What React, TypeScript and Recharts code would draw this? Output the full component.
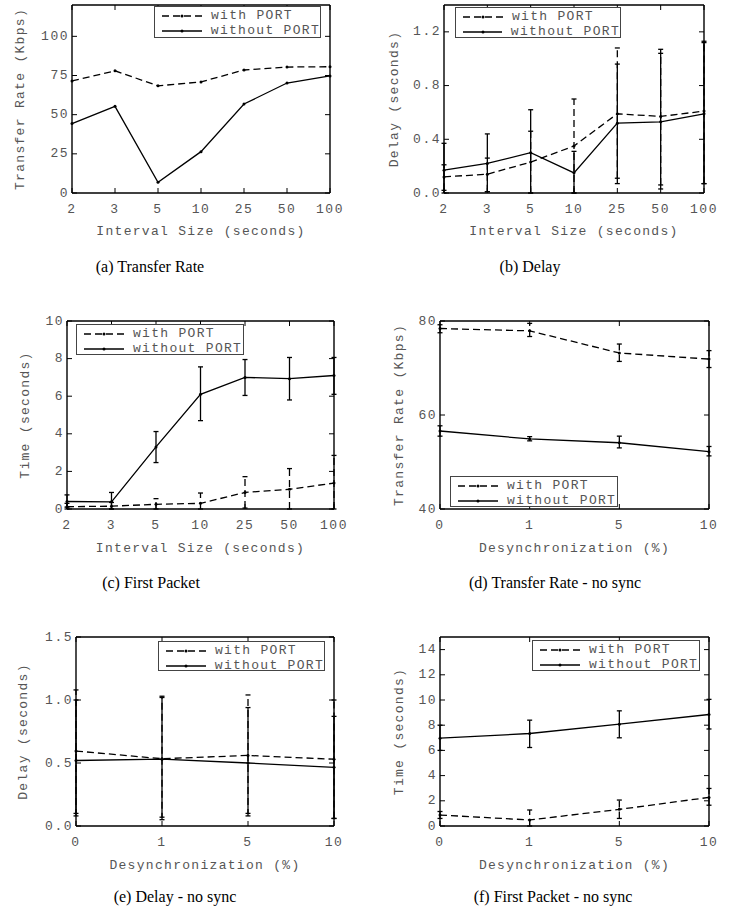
import React from "react";
import { ErrorBar, Label, Legend, Line, LineChart, XAxis, YAxis } from "recharts";

const MONO = '"Liberation Mono", "DejaVu Sans Mono", monospace';
const SERIF = '"Liberation Serif", "Times New Roman", serif';
const TEXT_GRAY = "#555";
const DASH = "7 4";

// categories
const INTERVALS = ["2", "3", "5", "10", "25", "50", "100"];
const DESYNC = ["0", "1", "5", "10"];

// (a) transfer rate (Kbps)
const RATE_WITH = [71.5, 78, 68.4, 70.9, 78.5, 80.4, 80.6];
const RATE_WITHOUT = [44.3, 55.3, 6.8, 26.4, 56.8, 70.2, 74.7];

// (b) delay (seconds) with low/high error bounds
const DELAY_WITH = [0.12, 0.14, 0.23, 0.35, 0.59, 0.57, 0.61];
const DELAY_WITH_LO = [0.02, 0.01, 0.0, 0.0, 0.11, 0.06, 0.07];
const DELAY_WITH_HI = [0.21, 0.26, 0.46, 0.7, 1.08, 1.07, 1.13];
const DELAY_WITHOUT = [0.17, 0.22, 0.3, 0.15, 0.52, 0.53, 0.59];
const DELAY_WITHOUT_LO = [0.0, 0.01, 0.0, 0.0, 0.07, 0.03, 0.07];
const DELAY_WITHOUT_HI = [0.37, 0.44, 0.62, 0.31, 0.96, 1.04, 1.12];

// (c) first packet time (seconds)
const FIRST_WITH = [0.12, 0.15, 0.25, 0.3, 0.88, 1.05, 1.38];
const FIRST_WITH_LO = [0.0, 0.0, 0.0, 0.0, 0.05, 0.0, 0.0];
const FIRST_WITH_HI = [0.3, 0.35, 0.55, 0.85, 1.72, 2.15, 2.85];
const FIRST_WITHOUT = [0.4, 0.38, 3.3, 6.1, 7.0, 6.93, 7.1];
const FIRST_WITHOUT_LO = [0.1, 0.0, 2.47, 4.7, 6.04, 5.8, 6.1];
const FIRST_WITHOUT_HI = [0.75, 0.88, 4.12, 7.56, 7.95, 8.06, 8.06];

// (d) transfer rate, no sync
const NS_RATE_WITH = [78.4, 77.9, 73.2, 71.9];
const NS_RATE_WITH_LO = [77.5, 76.7, 71.4, 70.1];
const NS_RATE_WITH_HI = [79.2, 79.5, 75.1, 73.7];
const NS_RATE_WITHOUT = [56.6, 54.9, 54.1, 52.2];
const NS_RATE_WITHOUT_LO = [55.5, 54.5, 53.0, 51.3];
const NS_RATE_WITHOUT_HI = [57.7, 55.4, 55.5, 53.3];

// (e) delay, no sync
const NS_DELAY_WITH = [0.595, 0.534, 0.56, 0.53];
const NS_DELAY_WITH_LO = [0.08, 0.05, 0.08, 0.06];
const NS_DELAY_WITH_HI = [1.08, 1.03, 1.04, 1.0];
const NS_DELAY_WITHOUT = [0.52, 0.53, 0.5, 0.466];
const NS_DELAY_WITHOUT_LO = [0.1, 0.07, 0.1, 0.06];
const NS_DELAY_WITHOUT_HI = [1.0, 1.02, 0.94, 0.87];

// (f) first packet, no sync
const NS_FIRST_WITH = [0.87, 0.48, 1.32, 2.27];
const NS_FIRST_WITH_LO = [0.6, 0.0, 0.6, 1.65];
const NS_FIRST_WITH_HI = [1.15, 1.27, 2.06, 2.98];
const NS_FIRST_WITHOUT = [6.97, 7.34, 8.08, 8.85];
const NS_FIRST_WITHOUT_LO = [6.0, 6.23, 7.0, 7.7];
const NS_FIRST_WITHOUT_HI = [8.0, 8.4, 9.14, 10.05];

const SERIES_WITH = "with PORT";
const SERIES_WITHOUT = "without PORT";

function buildRows(
  cats: string[],
  w: number[],
  wo: number[],
  wLo?: number[],
  wHi?: number[],
  woLo?: number[],
  woHi?: number[]
) {
  return cats.map((x, i) => ({
    x,
    w: w[i],
    wo: wo[i],
    wErr: wLo && wHi ? [w[i] - wLo[i], wHi[i] - w[i]] : [0, 0],
    woErr: woLo && woHi ? [wo[i] - woLo[i], woHi[i] - wo[i]] : [0, 0]
  }));
}

// space around the plot frame, in px (axes are 1px thick boxes)
const ML = 80;
const MT = 12;
const MR = 24;
const MB = 60;

type PanelProps = {
  frame: [number, number, number, number];
  rows: ReturnType<typeof buildRows>;
  errors: boolean;
  yDomain: [number, number];
  yTicks: number[];
  decimals: number;
  xTitle: string;
  yTitle: string;
  yTitleX: number;
  xTitleY: number;
  legend: [number, number, number, number];
  caption: string;
  capX: number;
  capY: number;
};

const tickText = {
  fontFamily: MONO,
  fontSize: 13,
  fill: TEXT_GRAY,
  letterSpacing: 1.5
} as const;

function Panel(p: PanelProps) {
  const [l, t, r, b] = p.frame;
  const w = r - l;
  const h = b - t;
  const ox = l - ML;
  const oy = t - MT;
  const fmt = (v: number) => v.toFixed(p.decimals);

  const bottomTick = ({ x, y, payload }: any) => (
    <g>
      <line x1={x} x2={x} y1={y} y2={y - 5} stroke="#000" />
      <text x={x} y={y + 16} textAnchor="middle" dominantBaseline="central" {...tickText}>
        {payload.value}
      </text>
    </g>
  );
  const topTick = ({ x, y }: any) => <line x1={x} x2={x} y1={y} y2={y + 5} stroke="#000" />;
  const leftTick = ({ x, y, payload }: any) => (
    <g>
      <line x1={x} x2={x + 5} y1={y} y2={y} stroke="#000" />
      <text x={x - 3} y={y} textAnchor="end" dominantBaseline="central" {...tickText}>
        {fmt(payload.value)}
      </text>
    </g>
  );
  const rightTick = ({ x, y }: any) => <line x1={x} x2={x - 5} y1={y} y2={y} stroke="#000" />;

  const titleStyle = { fontFamily: MONO, fontSize: 13, fill: TEXT_GRAY, letterSpacing: 1.3 };
  const yTx = p.yTitleX - ox;
  const yTy = MT + h / 2;

  const [lgL, lgT, lgR, lgB] = p.legend;

  const legendBox = ({ payload }: any) => (
    <div
      style={{
        width: lgR - lgL,
        height: lgB - lgT,
        boxSizing: "border-box",
        border: "1px solid #444",
        background: "#fff",
        paddingTop: 1,
        fontFamily: MONO,
        fontSize: 13,
        color: TEXT_GRAY,
        letterSpacing: 1.3,
        whiteSpace: "nowrap"
      }}
    >
      {(payload || []).map((entry: any) => (
        <div key={entry.value} style={{ display: "flex", alignItems: "center", height: 15 }}>
          <svg width={40} height={10} style={{ marginLeft: 7 }}>
            <line
              x1={0}
              x2={40}
              y1={5}
              y2={5}
              stroke="#000"
              strokeWidth={1.3}
              strokeDasharray={entry.payload?.strokeDasharray}
            />
            <circle cx={20} cy={5} r={1.5} fill="#000" />
          </svg>
          <span style={{ marginLeft: 9, lineHeight: "15px" }}>{entry.value}</span>
        </div>
      ))}
    </div>
  );

  const dot = { r: 1.5, fill: "#000", stroke: "#000", strokeWidth: 0 };
  const frameLine = { stroke: "#000", strokeWidth: 1.4 };

  return (
    <>
      <div style={{ position: "absolute", left: ox, top: oy }}>
        <LineChart
          width={w + ML + MR}
          height={h + MT + MB}
          data={p.rows}
          margin={{ top: MT - 1, right: MR - 1, bottom: MB - 1, left: ML - 1 }}
        >
          <XAxis
            dataKey="x"
            type="category"
            interval={0}
            height={1}
            tickSize={0}
            tickMargin={0}
            tickLine={false}
            axisLine={frameLine}
            tick={bottomTick}
          >
            <Label
              content={() => (
                <text
                  x={ML + w / 2}
                  y={p.xTitleY - oy}
                  textAnchor="middle"
                  dominantBaseline="central"
                  {...titleStyle}
                >
                  {p.xTitle}
                </text>
              )}
            />
          </XAxis>
          <XAxis
            xAxisId="top"
            dataKey="x"
            type="category"
            orientation="top"
            interval={0}
            height={1}
            tickSize={0}
            tickMargin={0}
            tickLine={false}
            axisLine={frameLine}
            tick={topTick}
          />
          <YAxis
            type="number"
            domain={p.yDomain}
            ticks={p.yTicks}
            allowDataOverflow
            interval={0}
            width={1}
            tickSize={0}
            tickMargin={0}
            tickLine={false}
            axisLine={frameLine}
            tick={leftTick}
          >
            <Label
              content={() => (
                <text
                  x={yTx}
                  y={yTy}
                  transform={`rotate(-90 ${yTx} ${yTy})`}
                  textAnchor="middle"
                  dominantBaseline="central"
                  {...titleStyle}
                >
                  {p.yTitle}
                </text>
              )}
            />
          </YAxis>
          <YAxis
            yAxisId="right"
            orientation="right"
            type="number"
            domain={p.yDomain}
            ticks={p.yTicks}
            allowDataOverflow
            interval={0}
            width={1}
            tickSize={0}
            tickMargin={0}
            tickLine={false}
            axisLine={frameLine}
            tick={rightTick}
          />
          <Legend
            layout="horizontal"
            verticalAlign="middle"
            align="center"
            wrapperStyle={{
              left: lgL - ox,
              top: lgT - oy,
              width: lgR - lgL,
              height: lgB - lgT
            }}
            content={legendBox}
          />
          <Line
            dataKey="w"
            name={SERIES_WITH}
            type="linear"
            stroke="#000"
            strokeWidth={1.3}
            strokeDasharray={DASH}
            dot={dot}
            activeDot={false}
            isAnimationActive={false}
          >
            {p.errors && (
              <ErrorBar
                dataKey="wErr"
                direction="y"
                width={2.5}
                stroke="#000"
                strokeWidth={1.3}
                strokeDasharray={DASH}
                isAnimationActive={false}
              />
            )}
          </Line>
          <Line
            dataKey="wo"
            name={SERIES_WITHOUT}
            type="linear"
            stroke="#000"
            strokeWidth={1.3}
            dot={dot}
            activeDot={false}
            isAnimationActive={false}
          >
            {p.errors && (
              <ErrorBar
                dataKey="woErr"
                direction="y"
                width={2.5}
                stroke="#000"
                strokeWidth={1.3}
                isAnimationActive={false}
              />
            )}
          </Line>
        </LineChart>
      </div>
      <div
        style={{
          position: "absolute",
          left: p.capX - 150,
          top: p.capY - 10,
          width: 300,
          textAlign: "center",
          fontFamily: SERIF,
          fontSize: 16,
          lineHeight: "20px",
          color: "#000"
        }}
      >
        {p.caption}
      </div>
    </>
  );
}

const INTERVAL_TITLE = "Interval Size (seconds)";
const DESYNC_TITLE = "Desynchronization (%)";

export default function App() {
  return (
    <div
      style={{
        position: "absolute",
        left: 0,
        top: 0,
        width: 743,
        height: 908,
        background: "#fff",
        overflow: "hidden"
      }}
    >
      <Panel
        frame={[72, 5, 330, 193]}
        rows={buildRows(INTERVALS, RATE_WITH, RATE_WITHOUT)}
        errors={false}
        yDomain={[0, 120]}
        yTicks={[0, 25, 50, 75, 100]}
        decimals={0}
        xTitle={INTERVAL_TITLE}
        yTitle="Transfer Rate (Kbps)"
        yTitleX={20}
        xTitleY={231}
        legend={[154, 6, 321, 38]}
        caption="(a) Transfer Rate"
        capX={150}
        capY={267}
      />
      <Panel
        frame={[444, 5, 704, 193]}
        rows={buildRows(
          INTERVALS,
          DELAY_WITH,
          DELAY_WITHOUT,
          DELAY_WITH_LO,
          DELAY_WITH_HI,
          DELAY_WITHOUT_LO,
          DELAY_WITHOUT_HI
        )}
        errors
        yDomain={[0, 1.4]}
        yTicks={[0, 0.4, 0.8, 1.2]}
        decimals={1}
        xTitle={INTERVAL_TITLE}
        yTitle="Delay (seconds)"
        yTitleX={394}
        xTitleY={231}
        legend={[455, 7, 621, 38]}
        caption="(b) Delay"
        capX={530}
        capY={267}
      />
      <Panel
        frame={[67, 321, 334, 509]}
        rows={buildRows(
          INTERVALS,
          FIRST_WITH,
          FIRST_WITHOUT,
          FIRST_WITH_LO,
          FIRST_WITH_HI,
          FIRST_WITHOUT_LO,
          FIRST_WITHOUT_HI
        )}
        errors
        yDomain={[0, 10]}
        yTicks={[0, 2, 4, 6, 8, 10]}
        decimals={0}
        xTitle={INTERVAL_TITLE}
        yTitle="Time (seconds)"
        yTitleX={25}
        xTitleY={548}
        legend={[76, 324, 244, 355]}
        caption="(c) First Packet"
        capX={151}
        capY={583}
      />
      <Panel
        frame={[440, 321, 709, 509]}
        rows={buildRows(
          DESYNC,
          NS_RATE_WITH,
          NS_RATE_WITHOUT,
          NS_RATE_WITH_LO,
          NS_RATE_WITH_HI,
          NS_RATE_WITHOUT_LO,
          NS_RATE_WITHOUT_HI
        )}
        errors
        yDomain={[40, 80]}
        yTicks={[40, 60, 80]}
        decimals={0}
        xTitle={DESYNC_TITLE}
        yTitle="Transfer Rate (Kbps)"
        yTitleX={399}
        xTitleY={548}
        legend={[450, 476, 618, 507]}
        caption="(d) Transfer Rate - no sync"
        capX={555}
        capY={583}
      />
      <Panel
        frame={[76, 637, 334, 826]}
        rows={buildRows(
          DESYNC,
          NS_DELAY_WITH,
          NS_DELAY_WITHOUT,
          NS_DELAY_WITH_LO,
          NS_DELAY_WITH_HI,
          NS_DELAY_WITHOUT_LO,
          NS_DELAY_WITHOUT_HI
        )}
        errors
        yDomain={[0, 1.5]}
        yTicks={[0, 0.5, 1.0, 1.5]}
        decimals={1}
        xTitle={DESYNC_TITLE}
        yTitle="Delay (seconds)"
        yTitleX={23}
        xTitleY={865}
        legend={[158, 641, 325, 671]}
        caption="(e) Delay - no sync"
        capX={175}
        capY={897}
      />
      <Panel
        frame={[440, 637, 709, 826]}
        rows={buildRows(
          DESYNC,
          NS_FIRST_WITH,
          NS_FIRST_WITHOUT,
          NS_FIRST_WITH_LO,
          NS_FIRST_WITH_HI,
          NS_FIRST_WITHOUT_LO,
          NS_FIRST_WITHOUT_HI
        )}
        errors
        yDomain={[0, 15]}
        yTicks={[0, 2, 4, 6, 8, 10, 12, 14]}
        decimals={0}
        xTitle={DESYNC_TITLE}
        yTitle="Time (seconds)"
        yTitleX={399}
        xTitleY={865}
        legend={[532, 640, 700, 671]}
        caption="(f) First Packet - no sync"
        capX={553}
        capY={897}
      />
    </div>
  );
}
